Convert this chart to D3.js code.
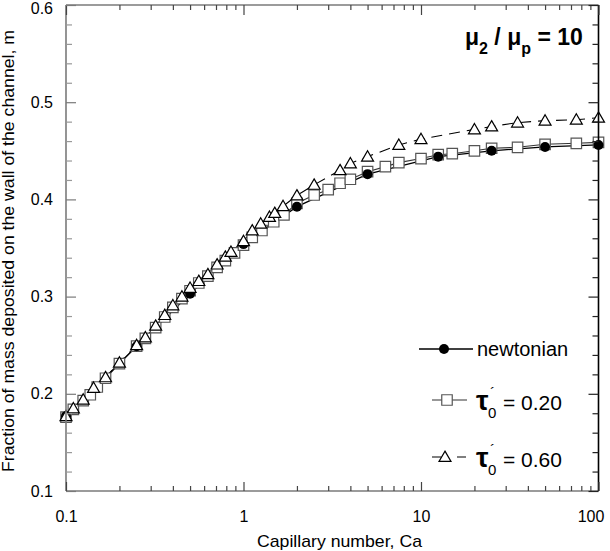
<!DOCTYPE html>
<html>
<head>
<meta charset="utf-8">
<script src="https://cdn.jsdelivr.net/npm/d3@7/dist/d3.min.js"></script>
<style>
  html, body { margin: 0; padding: 0; background: #fff; }
  svg { display: block; font-family: "Liberation Sans", Arial, Helvetica, sans-serif; }
</style>
</head>
<body>
<svg id="chart" width="610" height="551"></svg>
<script>
// ---------- data ----------
const newtonianCa = [0.1, 0.25, 0.5, 1, 2, 5, 12.5, 25, 50, 100];
const newtonianM  = [0.177, 0.249, 0.303, 0.354, 0.3925, 0.426, 0.444, 0.450, 0.454, 0.456];

const tau020Ca = [0.1, 0.11, 0.125, 0.137, 0.15, 0.167, 0.2, 0.25, 0.28, 0.32, 0.36, 0.4, 0.45, 0.5, 0.56, 0.63, 0.71, 0.79, 0.89, 1.0, 1.12, 1.27, 1.48, 1.69, 2.0, 2.5, 3.0, 3.5, 4.0, 5.0, 6.3, 7.5, 10, 12.5, 15, 20, 25, 35, 50, 75, 100];
const tau020M  = [0.176, 0.184, 0.193, 0.199, 0.207, 0.216, 0.231, 0.249, 0.257, 0.268, 0.279, 0.289, 0.298, 0.306, 0.314, 0.321, 0.330, 0.337, 0.345, 0.353, 0.361, 0.368, 0.377, 0.384, 0.396, 0.4045, 0.410, 0.4166, 0.4207, 0.4285, 0.4337, 0.4378, 0.442, 0.446, 0.447, 0.450, 0.4526, 0.4536, 0.4567, 0.4577, 0.4587];

const tau060Ca = [0.1, 0.11, 0.125, 0.143, 0.167, 0.2, 0.25, 0.28, 0.32, 0.36, 0.4, 0.45, 0.5, 0.56, 0.63, 0.71, 0.79, 0.85, 1.0, 1.12, 1.25, 1.4, 1.5, 1.67, 2, 2.5, 3.5, 4, 5, 7.5, 10, 20, 25, 35, 50, 75, 100];
const tau060M  = [0.177, 0.185, 0.194, 0.206, 0.217, 0.232, 0.250, 0.258, 0.270, 0.281, 0.291, 0.300, 0.309, 0.316, 0.323, 0.333, 0.341, 0.346, 0.357, 0.368, 0.375, 0.382, 0.386, 0.393, 0.404, 0.415, 0.430, 0.437, 0.444, 0.456, 0.462, 0.472, 0.475, 0.479, 0.481, 0.482, 0.484];

const xMajorTicks = [0.1, 1, 10, 100];
const xTickLabels = ["0.1", "1", "10", "100"];
const yMajorTicks = [0.1, 0.2, 0.3, 0.4, 0.5, 0.6];
const yTickLabels = ["0.1", "0.2", "0.3", "0.4", "0.5", "0.6"];
const yMinorTicks = [0.12,0.14,0.16,0.18,0.22,0.24,0.26,0.28,0.32,0.34,0.36,0.38,0.42,0.44,0.46,0.48,0.52,0.54,0.56,0.58];
const xMinorTicks = [0.2,0.3,0.4,0.5,0.6,0.7,0.8,0.9,2,3,4,5,6,7,8,9,20,30,40,50,60,70,80,90];

const legendLabels = ["newtonian", "0.20", "0.60"];

// ---------- scales ----------
const L = 66, R = 598.5, T = 5, B = 491;
const x = d3.scaleLog().domain([0.1, 100]).range([L, R]);
const y = d3.scaleLinear().domain([0.1, 0.6]).range([B, T]);

const svg = d3.select("#chart");
const zip = (a, b) => a.map((v, i) => [v, b[i]]);

const line = d3.line().x(d => x(d[0])).y(d => y(d[1]));

// lines
svg.append("path").datum(zip(tau020Ca, tau020M))
  .attr("d", line).attr("fill", "none").attr("stroke", "#333").attr("stroke-width", 1.1);
svg.append("path").datum(zip(newtonianCa, newtonianM))
  .attr("d", line).attr("fill", "none").attr("stroke", "#000").attr("stroke-width", 1.3);
svg.append("path").datum(zip(tau060Ca, tau060M))
  .attr("d", line).attr("fill", "none").attr("stroke", "#000").attr("stroke-width", 1.1)
  .attr("stroke-dasharray", "11,7");

// markers
const sq = d3.symbol().type(d3.symbolSquare).size(110);
const tri = d3.symbol().type(d3.symbolTriangle).size(62);

svg.append("g").selectAll("path").data(zip(tau020Ca, tau020M)).join("path")
  .attr("d", sq).attr("transform", d => `translate(${x(d[0])},${y(d[1])})`)
  .attr("fill", "#fff").attr("stroke", "#555").attr("stroke-width", 1.2);
svg.append("g").selectAll("circle").data(zip(newtonianCa, newtonianM)).join("circle")
  .attr("cx", d => x(d[0])).attr("cy", d => y(d[1])).attr("r", 5).attr("fill", "#000");
svg.append("g").selectAll("path").data(zip(tau060Ca, tau060M)).join("path")
  .attr("d", tri).attr("transform", d => `translate(${x(d[0])},${y(d[1]) + 1})`)
  .attr("fill", "#fff").attr("stroke", "#000").attr("stroke-width", 1.2);

// ---------- axes ----------
const axisColor = "#7a7a7a";
function styleAxis(g, color) {
  g.select(".domain").remove();
  g.selectAll("line").attr("stroke", color).attr("stroke-width", 1.2);
}
// frame
svg.append("line").attr("x1", L).attr("x2", L).attr("y1", T).attr("y2", B).attr("stroke", axisColor).attr("stroke-width", 1.6);
svg.append("line").attr("x1", L).attr("x2", R).attr("y1", B).attr("y2", B).attr("stroke", axisColor).attr("stroke-width", 1.6);
svg.append("line").attr("x1", L).attr("x2", R).attr("y1", T).attr("y2", T).attr("stroke", axisColor).attr("stroke-width", 1.6);
svg.append("line").attr("x1", R).attr("x2", R).attr("y1", T).attr("y2", B).attr("stroke", "#000").attr("stroke-width", 1.6);

// bottom
const gB = svg.append("g").attr("transform", `translate(0,${B})`)
  .call(d3.axisBottom(x).tickValues(xMajorTicks).tickSizeInner(-9).tickSizeOuter(0).tickPadding(20)
    .tickFormat((d, i) => xTickLabels[i]));
styleAxis(gB, "#444");
gB.selectAll("text").attr("font-size", 16).attr("fill", "#000").attr("font-family", null);
gB.selectAll(".tick").filter(d => d === 100).select("text").attr("dx", -8);
const gBm = svg.append("g").attr("transform", `translate(0,${B})`)
  .call(d3.axisBottom(x).tickValues(xMinorTicks).tickSizeInner(-5).tickSizeOuter(0).tickFormat(""));
styleAxis(gBm, "#444");

// top
const gT = svg.append("g").attr("transform", `translate(0,${T})`)
  .call(d3.axisTop(x).tickValues(xMajorTicks).tickSizeInner(-10).tickSizeOuter(0).tickFormat(""));
styleAxis(gT, "#444");
const gTm = svg.append("g").attr("transform", `translate(0,${T})`)
  .call(d3.axisTop(x).tickValues(xMinorTicks).tickSizeInner(-5).tickSizeOuter(0).tickFormat(""));
styleAxis(gTm, "#444");

// left
const gL = svg.append("g").attr("transform", `translate(${L},0)`)
  .call(d3.axisLeft(y).tickValues(yMajorTicks).tickSizeInner(-10).tickSizeOuter(0).tickPadding(13)
    .tickFormat((d, i) => yTickLabels[i]));
styleAxis(gL, axisColor);
gL.selectAll("text").attr("font-size", 16).attr("fill", "#000").attr("font-family", null);
gL.selectAll(".tick").filter(d => d === 0.6).select("text").attr("dy", "0.5em");
const gLm = svg.append("g").attr("transform", `translate(${L},0)`)
  .call(d3.axisLeft(y).tickValues(yMinorTicks).tickSizeInner(-6).tickSizeOuter(0).tickFormat(""));
styleAxis(gLm, "#999");

// right
const gR = svg.append("g").attr("transform", `translate(${R},0)`)
  .call(d3.axisRight(y).tickValues(yMajorTicks).tickSizeInner(-10).tickSizeOuter(0).tickFormat(""));
styleAxis(gR, "#222");
const gRm = svg.append("g").attr("transform", `translate(${R},0)`)
  .call(d3.axisRight(y).tickValues(yMinorTicks).tickSizeInner(-6).tickSizeOuter(0).tickFormat(""));
styleAxis(gRm, "#222");

// ---------- axis titles ----------
svg.append("text").attr("x", 339.5).attr("y", 547).attr("text-anchor", "middle")
  .attr("font-size", 17).attr("textLength", 165).attr("lengthAdjust", "spacingAndGlyphs")
  .text("Capillary number, Ca");
svg.append("text").attr("transform", "translate(14,251) rotate(-90)").attr("text-anchor", "middle")
  .attr("font-size", 17).attr("textLength", 442).attr("lengthAdjust", "spacingAndGlyphs")
  .text("Fraction of mass deposited on the wall of the channel, m");

// ---------- annotation ----------
const ann = svg.append("text").attr("x", 465).attr("y", 45).attr("font-size", 23).attr("font-weight", "bold");
ann.append("tspan").text("μ");
ann.append("tspan").attr("font-size", 16).attr("dy", 9).text("2");
ann.append("tspan").attr("dy", -9).text(" / μ");
ann.append("tspan").attr("font-size", 16).attr("dy", 9).text("p");
ann.append("tspan").attr("dy", -9).text(" = 10");

// ---------- legend ----------
const lg = svg.append("g");
// row 1
lg.append("line").attr("x1", 419).attr("x2", 473).attr("y1", 349).attr("y2", 349).attr("stroke", "#000").attr("stroke-width", 1.3);
lg.append("circle").attr("cx", 444).attr("cy", 349).attr("r", 5).attr("fill", "#000");
lg.append("text").attr("x", 477).attr("y", 356).attr("font-size", 20).text(legendLabels[0]);
// row 2
lg.append("line").attr("x1", 432).attr("x2", 467).attr("y1", 400).attr("y2", 400).attr("stroke", "#333").attr("stroke-width", 1.1);
lg.append("path").attr("d", sq).attr("transform", "translate(447,400)").attr("fill", "#fff").attr("stroke", "#555").attr("stroke-width", 1.2);
// row 3
lg.append("line").attr("x1", 432).attr("x2", 466).attr("y1", 457).attr("y2", 457).attr("stroke", "#000").attr("stroke-width", 1.1).attr("stroke-dasharray", "9,16");
lg.append("path").attr("d", tri).attr("transform", "translate(445,458)").attr("fill", "#fff").attr("stroke", "#000").attr("stroke-width", 1.2);

function tauLabel(yBase, val) {
  const g = lg.append("g");
  g.append("text").attr("x", 476).attr("y", yBase).attr("font-size", 28).attr("font-weight", "bold").text("τ");
  g.append("text").attr("x", 490).attr("y", yBase - 12).attr("font-size", 15).text("´");
  g.append("text").attr("x", 488).attr("y", yBase + 8).attr("font-size", 15).text("0");
  g.append("text").attr("x", 503).attr("y", yBase).attr("font-size", 21).text("= " + val);
}
tauLabel(410, legendLabels[1]);
tauLabel(467, legendLabels[2]);
</script>
</body>
</html>
